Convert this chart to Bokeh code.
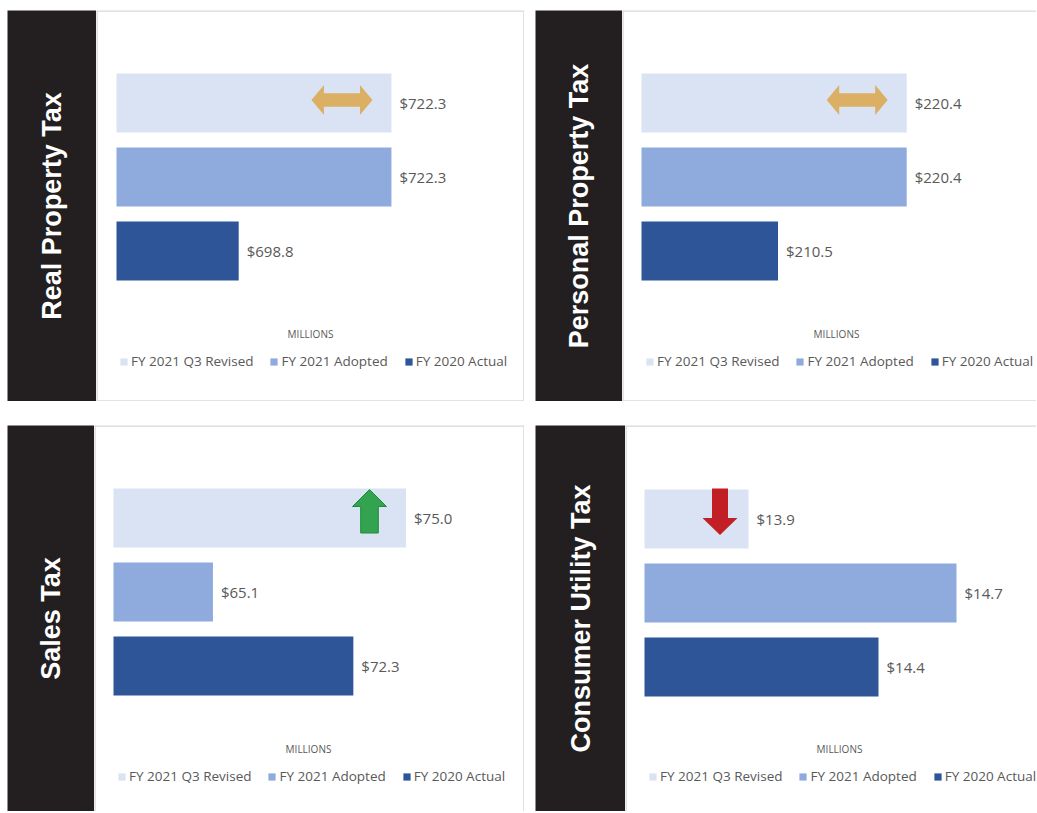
import math
from bokeh.plotting import figure
from bokeh.layouts import column, row
from bokeh.models import Spacer, Legend, LegendItem, ColumnDataSource, Span
from bokeh.core.properties import value
from bokeh.embed import file_html
from bokeh.resources import INLINE

# ---------------- data ----------------
series = ["FY 2021 Q3 Revised", "FY 2021 Adopted", "FY 2020 Actual"]
series_colors = ["#dae3f3", "#8faadc", "#2d5597"]

titles = ["Real Property Tax", "Personal Property Tax", "Sales Tax", "Consumer Utility Tax"]
real_property = [722.3, 722.3, 698.8]
personal_property = [220.4, 220.4, 210.5]
sales_tax = [75.0, 65.1, 72.3]
consumer_utility = [13.9, 14.7, 14.4]
axis_min = [680, 200, 60, 13.5]
axis_max = [740, 230, 80, 15.0]
trend = ["flat", "flat", "up", "down"]
unit_label = "MILLIONS"

# ---------------- style ----------------
SIDEBAR = "#231f20"
BORDER = "#d9d9d9"
TEXT_GRAY = "#595959"
PLOT_W = 390.0   # px width of the value axis area
ROW_PX = 74.0    # px between bar centres
BAR_PX = 59.0


def sidebar(title, w, h):
    s = figure(width=w, height=h, x_range=(0, 1), y_range=(0, 1),
               x_axis_location=None, y_axis_location=None, min_border=0,
               toolbar_location=None, output_backend="svg",
               background_fill_color=SIDEBAR, border_fill_color=SIDEBAR,
               outline_line_color=None)
    s.grid.visible = False
    s.text(x=[0.5], y=[0.5], text=[title], angle=math.pi / 2,
           text_align="center", text_baseline="middle",
           text_color="white", text_font=value("Liberation Sans"),
           text_font_style="bold", text_font_size="27px")
    return s


def panel(vals, amin, amax, kind, W, H, left_off, top_off,
          right_border=True, bottom_border=True):
    sx = PLOT_W / (amax - amin)
    sy = ROW_PX
    x0 = amin - left_off / sx
    x1 = x0 + W / sx
    ys = [2, 1, 0]
    y1 = ys[0] + top_off / sy
    y0 = y1 - H / sy
    p = figure(width=W, height=H, x_range=(x0, x1), y_range=(y0, y1),
               x_axis_location=None, y_axis_location=None, min_border=0,
               toolbar_location=None, output_backend="svg",
               background_fill_color="white", border_fill_color="white",
               outline_line_color=None)
    p.grid.visible = False

    # panel frame
    p.add_layout(Span(location=x0, dimension="height", line_color=BORDER, line_width=2.5))
    p.add_layout(Span(location=y1, dimension="width", line_color=BORDER, line_width=2.5))
    if bottom_border:
        p.add_layout(Span(location=y0, dimension="width", line_color=BORDER, line_width=2.5))
    if right_border:
        p.add_layout(Span(location=x1, dimension="height", line_color=BORDER, line_width=2.5))

    items = []
    for i, name in enumerate(series):
        src = ColumnDataSource(dict(y=[ys[i]], right=[vals[i]]))
        r = p.hbar(y="y", left=amin, right="right", height=BAR_PX / ROW_PX,
                   source=src, fill_color=series_colors[i], line_color=None)
        items.append(LegendItem(label=name, renderers=[r]))

    p.text(x=vals, y=ys, text=["$%.1f" % v for v in vals], x_offset=8,
           text_align="left", text_baseline="middle", text_color=TEXT_GRAY,
           text_font=value("Open Sans"), text_font_size="15px")

    p.text(x=[x0 + 214 / sx], y=[y1 - 323 / sy], text=[unit_label],
           text_align="center", text_baseline="middle", text_color=TEXT_GRAY,
           text_font=value("Open Sans"), text_font_size="10px")

    leg = Legend(items=items, orientation="horizontal",
                 location=(23, H - 351 - 9), margin=0, padding=0,
                 spacing=16, glyph_width=9, glyph_height=9, label_standoff=3,
                 label_height=18,
                 label_text_font="Open Sans", label_text_font_size="13.5px",
                 label_text_color=TEXT_GRAY, background_fill_alpha=0,
                 border_line_color=None)
    p.add_layout(leg)

    # trend marker anchored to the revised bar
    def poly(cx, cy, pts):
        return ([cx + dx / sx for dx, dy in pts], [cy - dy / sy for dx, dy in pts])

    rv = vals[0]
    if kind == "flat":
        cx, cy = rv - 49.5 / sx, ys[0] + 3 / sy
        pts = [(-30.5, 0), (-18, -15), (-18, -6.7), (18, -6.7), (18, -15),
               (30.5, 0), (18, 15), (18, 6.7), (-18, 6.7), (-18, 15)]
        xs, yy = poly(cx, cy, pts)
        p.patch(xs, yy, fill_color="#dbb064", line_color=None)
    elif kind == "up":
        cx, cy = rv - 36.5 / sx, ys[0]
        pts = [(0, -28.5), (17, -11.5), (8.8, -11.5), (8.8, 15), (-8.8, 15),
               (-8.8, -11.5), (-17, -11.5)]
        xs, yy = poly(cx, cy, pts)
        p.patch(xs, yy, fill_color="#34a350", line_color="#1e8a3c", line_width=1)
    else:
        cx, cy = rv - 28.5 / sx, ys[0]
        pts = [(-8, -30.5), (8, -30.5), (8, -1), (17.5, -1), (0, 16),
               (-17.5, -1), (-8, -1)]
        xs, yy = poly(cx, cy, pts)
        p.patch(xs, yy, fill_color="#c21e25", line_color=None)
    return p


top_h, bot_h = 391, 386
p1 = panel(real_property, axis_min[0], axis_max[0], trend[0], 428, top_h, 20, 92.5)
p2 = panel(personal_property, axis_min[1], axis_max[1], trend[1], 414, top_h, 19, 92.5,
           right_border=False)
p3 = panel(sales_tax, axis_min[2], axis_max[2], trend[2], 430, bot_h, 19, 92.5,
           bottom_border=False)
p4 = panel(consumer_utility, axis_min[3], axis_max[3], trend[3], 411, bot_h, 19, 93.5,
           right_border=False, bottom_border=False)

s1 = sidebar(titles[0], 89, top_h)
s2 = sidebar(titles[1], 87, top_h)
s3 = sidebar(titles[2], 87, bot_h)
s4 = sidebar(titles[3], 90, bot_h)

layout = column(
    Spacer(height=10, width=10),
    row(Spacer(width=7, height=10), s1, p1, Spacer(width=11, height=10), s2, p2),
    Spacer(height=24, width=10),
    row(Spacer(width=7, height=10), s3, p3, Spacer(width=11, height=10), s4, p4),
)

open("out.html", "w").write(file_html(layout, INLINE))
